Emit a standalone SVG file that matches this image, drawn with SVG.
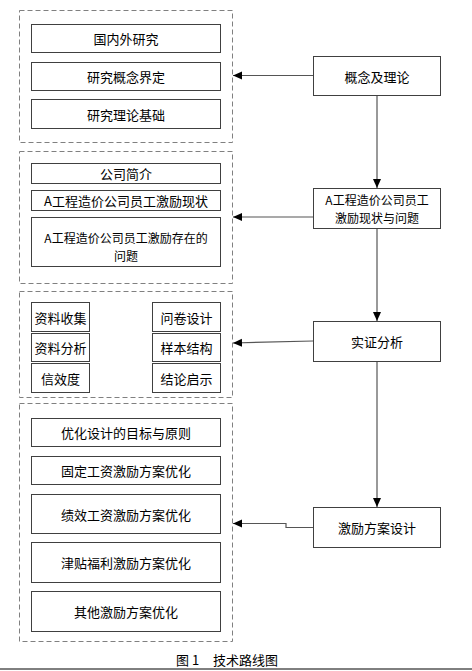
<svg xmlns="http://www.w3.org/2000/svg" width="472" height="671" viewBox="0 0 472 671">
<style>
.grp{fill:none;stroke:#808080;stroke-width:1;stroke-dasharray:5,3}
.box{fill:#fff;stroke:#404040;stroke-width:1}
.t{font-family:"Noto Sans CJK SC","Liberation Sans",sans-serif;font-size:13px;fill:#000;text-anchor:middle;dominant-baseline:central}
.t2{font-size:12px}
.con{fill:none;stroke:#555;stroke-width:1.2}
</style>
<defs>
<marker id="arr" markerUnits="userSpaceOnUse" markerWidth="10" markerHeight="10" refX="9" refY="4" orient="auto">
<path d="M0,0 L9,4 L0,8 z" fill="#000"/>
</marker>
</defs>
<rect width="472" height="671" fill="#fff"/>

<g id="group1">
<rect class="grp" x="19.5" y="10.5" width="213" height="132"/>
<g id="n_guoneiwai"><rect class="box" x="31.5" y="24.5" width="189" height="28"/><text class="t" x="126" y="38.5">国内外研究</text></g>
<g id="n_gainianjieding"><rect class="box" x="31.5" y="62.5" width="189" height="28"/><text class="t" x="126" y="76.5">研究概念界定</text></g>
<g id="n_lilunjichu"><rect class="box" x="31.5" y="99.5" width="189" height="29"/><text class="t" x="126" y="114">研究理论基础</text></g>
</g>

<g id="group2">
<rect class="grp" x="19.5" y="151.5" width="213" height="132"/>
<g id="n_gongsijianjie"><rect class="box" x="31.5" y="163.5" width="189" height="20"/><text class="t" x="126" y="173.5">公司简介</text></g>
<g id="n_xianzhuang"><rect class="box" x="31.5" y="190.5" width="189" height="20"/><text class="t" x="126" y="200.5">A工程造价公司员工激励现状</text></g>
<g id="n_wenti"><rect class="box" x="31.5" y="217.5" width="189" height="49"/><text class="t t2" x="126" y="237.5">A工程造价公司员工激励存在的</text><text class="t t2" x="126" y="255">问题</text></g>
</g>

<g id="group3">
<rect class="grp" x="19.5" y="291.5" width="213" height="106"/>
<g id="n_ziliaoshouji"><rect class="box" x="31.5" y="302.5" width="58" height="29"/><text class="t" x="60.5" y="317">资料收集</text></g>
<g id="n_ziliaofenxi"><rect class="box" x="31.5" y="333.5" width="58" height="28"/><text class="t" x="60.5" y="347.5">资料分析</text></g>
<g id="n_xinxiaodu"><rect class="box" x="31.5" y="363.5" width="58" height="29"/><text class="t" x="60.5" y="378">信效度</text></g>
<g id="n_wenjuan"><rect class="box" x="152.5" y="302.5" width="68" height="29"/><text class="t" x="186.5" y="317">问卷设计</text></g>
<g id="n_yangben"><rect class="box" x="152.5" y="333.5" width="68" height="28"/><text class="t" x="186.5" y="347.5">样本结构</text></g>
<g id="n_jielun"><rect class="box" x="152.5" y="363.5" width="68" height="29"/><text class="t" x="186.5" y="378">结论启示</text></g>
</g>

<g id="group4">
<rect class="grp" x="19.5" y="403.5" width="213" height="238"/>
<g id="n_mubiao"><rect class="box" x="31.5" y="418.5" width="189" height="28"/><text class="t" x="126" y="432.5">优化设计的目标与原则</text></g>
<g id="n_guding"><rect class="box" x="31.5" y="456.5" width="189" height="28"/><text class="t" x="126" y="470.5">固定工资激励方案优化</text></g>
<g id="n_jixiao"><rect class="box" x="31.5" y="494.5" width="189" height="39"/><text class="t" x="126" y="514">绩效工资激励方案优化</text></g>
<g id="n_jintie"><rect class="box" x="31.5" y="542.5" width="189" height="40"/><text class="t" x="126" y="562.5">津贴福利激励方案优化</text></g>
<g id="n_qita"><rect class="box" x="31.5" y="591.5" width="189" height="40"/><text class="t" x="126" y="611.5">其他激励方案优化</text></g>
</g>

<g id="n_gainian"><rect class="box" x="313.5" y="56.5" width="127" height="39"/><text class="t" x="377" y="76">概念及理论</text></g>
<g id="n_xianzhuangwenti"><rect class="box" x="313.5" y="188.5" width="127" height="40"/><text class="t t2" x="377" y="199.5">A工程造价公司员工</text><text class="t t2" x="377" y="217">激励现状与问题</text></g>
<g id="n_shizheng"><rect class="box" x="313.5" y="321.5" width="127" height="40"/><text class="t" x="377" y="341.5">实证分析</text></g>
<g id="n_fangan"><rect class="box" x="313.5" y="507.5" width="127" height="40"/><text class="t" x="377" y="527.5">激励方案设计</text></g>

<g id="connectors">
<line class="con" x1="377" y1="96" x2="377" y2="188" marker-end="url(#arr)"/>
<line class="con" x1="377" y1="229" x2="377" y2="321" marker-end="url(#arr)"/>
<line class="con" x1="377" y1="362" x2="377" y2="507" marker-end="url(#arr)"/>
<line class="con" x1="313" y1="75.5" x2="233" y2="75.5" marker-end="url(#arr)"/>
<line class="con" x1="313" y1="217" x2="233" y2="217" marker-end="url(#arr)"/>
<line class="con" x1="313" y1="341" x2="233" y2="343" marker-end="url(#arr)"/>
<polyline class="con" points="313,527.5 286,527.5 286,523.5 233,523.5" marker-end="url(#arr)"/>
</g>

<text font-family="'Noto Sans CJK SC','Liberation Serif',serif" font-size="13" x="176" y="665">图 <tspan>1</tspan><tspan x="213">技术路线图</tspan></text>
<line x1="0" y1="669" x2="472" y2="669" stroke="#000" stroke-width="1"/>
</svg>
